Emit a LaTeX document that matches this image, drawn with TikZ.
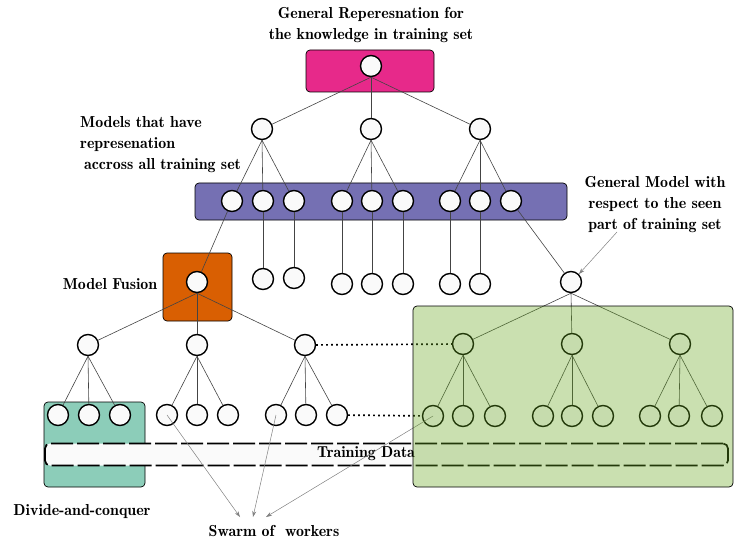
\documentclass[tikz,border=0pt]{standalone}
\usepackage{fontspec}
\newfontfamily\demifont{lmromandemi10-regular}[Extension=.otf]
\usetikzlibrary{arrows.meta}
\definecolor{cpink}{HTML}{E7298A}
\definecolor{cpurple}{HTML}{7570B3}
\definecolor{corange}{HTML}{D95F02}
\definecolor{cteal}{HTML}{8CCDB9}
\definecolor{cgreen}{HTML}{66A61E}
\definecolor{cedge}{HTML}{444444}
\definecolor{cnode}{HTML}{FAFAFA}
\tikzset{
 nd/.style={circle, draw=black, line width=1.4pt, fill=cnode, minimum size=21pt, inner sep=0pt},
 box/.style={draw=black, line width=0.7pt, rounded corners=4pt, inner sep=0pt},
 edge/.style={draw=cedge, line width=0.6pt},
 dotline/.style={line width=1.7pt, dash pattern=on 1.7pt off 3.3pt},
 lbl/.style={font=\demifont\fontsize{15.9}{21}\selectfont, inner sep=0pt},
 warrow/.style={draw=gray, line width=0.5pt, -{Stealth[length=6pt,width=4pt]}},
}
\begin{document}
\begin{tikzpicture}[x=1pt,y=-1pt]
\useasboundingbox (0,0) rectangle (751,545);
% boxes
\node[box, fill=cteal, minimum width=101pt, minimum height=85pt] (tealbox) at (94.5,444.5) {};
\node[box, fill=cpink, minimum width=128pt, minimum height=42pt] (pinkbox) at (370,71) {};
\node[box, fill=cpurple, minimum width=372pt, minimum height=37pt] (purplebox) at (381,201.5) {};
\node[box, fill=corange, minimum width=69pt, minimum height=68pt] (orangebox) at (197.5,287) {};
% circles
\node[nd] (t0) at (371,66) {};
\node[nd] (a1) at (262,129) {};
\node[nd] (a2) at (371,129) {};
\node[nd] (a3) at (480,129) {};
\foreach \i/\x in {1/232,2/263,3/294,4/342,5/372,6/403,7/450,8/480,9/511}
  \node[nd] (b\i) at (\x,201) {};
\node[nd] (c2) at (263,279) {};
\node[nd] (c3) at (294,278) {};
\foreach \i/\x in {4/342,5/372,6/403,7/450,8/480}
  \node[nd] (c\i) at (\x,284) {};
\node[nd] (f) at (197,282) {};
\node[nd] (r) at (571,282) {};
\node[nd] (d1) at (88,345) {};
\node[nd] (d2) at (197,345) {};
\node[nd] (d3) at (305,345) {};
\node[nd] (e1) at (463,344) {};
\node[nd] (e2) at (572,344) {};
\node[nd] (e3) at (680,344) {};
\foreach \i/\x in {1/58,2/89,3/120,4/167,5/197,6/228,7/276,8/306,9/337}
  \node[nd] (l\i) at (\x,415) {};
\foreach \i/\x in {1/433,2/463,3/495,4/543,5/572,6/603,7/650,8/679,9/712}
  \node[nd] (m\i) at (\x,416) {};
% edges
\foreach \c in {a1,a2,a3} \draw[edge] (t0.south) -- (\c);
\foreach \c in {b1,b2,b3} \draw[edge] (a1.south) -- (\c);
\foreach \c in {b4,b5,b6} \draw[edge] (a2.south) -- (\c);
\foreach \c in {b7,b8,b9} \draw[edge] (a3.south) -- (\c);
\foreach \i in {2,...,8} \draw[edge] (b\i) -- (c\i);
\draw[edge] (b1) -- (f);
\draw[edge] (b9) -- (r);
\foreach \c in {d1,d2,d3} \draw[edge] (f.south) -- (\c);
\foreach \c in {e1,e2,e3} \draw[edge] (r.south) -- (\c);
\foreach \c in {l1,l2,l3} \draw[edge] (d1.south) -- (\c);
\foreach \c in {l4,l5,l6} \draw[edge] (d2.south) -- (\c);
\foreach \c in {l7,l8,l9} \draw[edge] (d3.south) -- (\c);
\foreach \c in {m1,m2,m3} \draw[edge] (e1.south) -- (\c);
\foreach \c in {m4,m5,m6} \draw[edge] (e2.south) -- (\c);
\foreach \c in {m7,m8,m9} \draw[edge] (e3.south) -- (\c);
\draw[dotline] (d3) -- (e1);
\draw[dotline] (l9) -- (m1);
% training data
\node[draw=black, line width=1.7pt, dash pattern=on 22pt off 4pt, rounded corners=5pt, fill=cnode,
      minimum width=683pt, minimum height=22pt, inner sep=0pt] (train) at (386.5,454.5) {};
\node[lbl] (traintext) at (366,454) {Training Data};
% swarm arrows
\node[lbl] (swarm) at (274,531) {Swarm of \ workers};
\coordinate (w1) at (240,517);
\coordinate (w2) at (253,517);
\coordinate (w3) at (266,517);
\draw[warrow] (l4.center) -- (w1);
\draw[warrow] (l7.center) -- (w2);
\draw[warrow] (m1.center) -- (w3);
% green box
\node[box, fill=cgreen, fill opacity=0.35, minimum width=320pt, minimum height=181pt] (greenbox) at (573,396.5) {};
% labels
\node[lbl, align=center] (ttop) at (371,25) {General Reperesnation for\\the knowledge in training set};
\node[lbl, align=left, anchor=west] (tmod) at (80,145) {Models that have\\represenation\\\hspace{4pt}accross all training set};
\node[lbl] (tfus) at (110,284) {Model Fusion};
\node[lbl, align=center] (tgen) at (655,205) {General Model with\\respect to the seen\\part of training set};
\node[lbl] (tdiv) at (82,512) {Divide-and-conquer};
\coordinate (gstart) at (617,232);
\draw[warrow] (gstart) -- (r.north east);
\end{tikzpicture}
\end{document}
